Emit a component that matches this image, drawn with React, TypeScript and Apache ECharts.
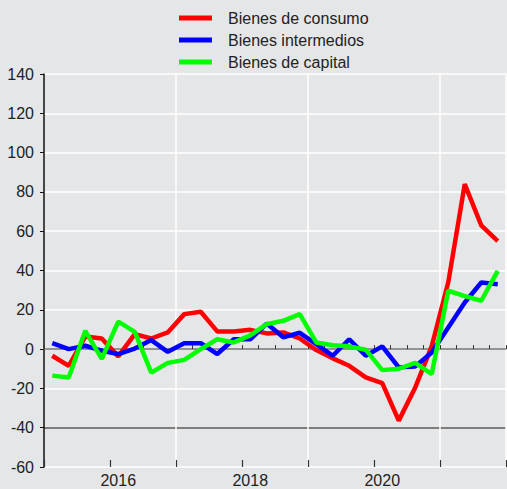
import React, { useEffect, useRef } from "react";
import * as echarts from "echarts";

const categories: string[] = [];
for (const y of [2015, 2016, 2017, 2018, 2019, 2020, 2021]) {
  for (const q of [1, 2, 3, 4]) categories.push(`${y}T${q}`);
}

const seriesNames = ["Bienes de consumo", "Bienes intermedios", "Bienes de capital"];

const consumo = [
  -3.4, -8.5, 6.4, 5.4, -3.7, 7.6, 5.4, 8.5, 17.8, 19, 9, 9,
  9.8, 8, 8.5, 5.4, -0.5, -4.7, -8.5, -14.4, -17.3, -36.4, -19.5, 1.5,
  34, 84, 63, 55,
];
const intermedios = [
  3, 0, 1.7, -0.8, -2.5, 0.3, 4.6, -1.4, 3, 3, -2.5, 5,
  5, 13, 6, 8.3, 2.5, -3.4, 5, -3.4, 1.4, -9.3, -8.8, -1.7,
  11, 23.7, 33.9, 33,
];
const capital = [
  -13.5, -14.4, 9.3, -5, 14, 8.8, -12, -7, -5.5, 0, 5, 3.4,
  7, 12.7, 14.4, 17.8, 3.4, 2, 1.4, -0.3, -10.7, -10, -7, -12.7,
  29.7, 27, 24.6, 39.8,
];

const yTicks = [-60, -40, -20, 0, 20, 40, 60, 80, 100, 120, 140];
const labelYears = ["2016T1", "2018T1", "2020T1"];
const colors = ["#ff0000", "#0000ff", "#00ff00"];

export default function App() {
  const ref = useRef<HTMLDivElement>(null);
  useEffect(() => {
    if (!ref.current) return;
    const chart = echarts.init(ref.current, null, { renderer: "svg" });
    const font = "'Liberation Sans', Arial, Helvetica, sans-serif";
    const gridColors = yTicks.map((v) => (v === 0 || v === -40 ? "#5a5a5a" : "#ffffff"));
    chart.setOption({
      animation: false,
      backgroundColor: "#e5e6e8",
      textStyle: { fontFamily: font },
      legend: {
        orient: "vertical",
        left: 174,
        top: 5,
        icon: "rect",
        itemWidth: 33,
        itemHeight: 5,
        itemGap: 6,
        data: seriesNames,
        textStyle: {
          fontFamily: font,
          fontSize: 16,
          color: "#222",
          lineHeight: 16,
          padding: [0, 0, 0, 11],
        },
      },
      grid: { left: 44, right: 1, top: 74, bottom: 22 },
      xAxis: [
        {
          type: "category",
          data: categories,
          boundaryGap: true,
          axisLine: { show: true, lineStyle: { color: "#9a9a9a", width: 1.5 } },
          axisTick: {
            show: true,
            inside: true,
            interval: 0,
            length: 4,
            lineStyle: { color: "#333", width: 1 },
          },
          axisLabel: {
            interval: (_i: number, v: string) => labelYears.includes(v),
            formatter: (v: string) => v.slice(0, 4),
            fontSize: 16,
            color: "#222",
            margin: 5,
            fontFamily: font,
          },
          splitLine: {
            show: true,
            interval: (i: number) => i > 0 && i % 8 === 0,
            lineStyle: { color: "#ffffff", width: 1.5 },
          },
        },
        {
          type: "value",
          min: 0,
          max: 7,
          interval: 1,
          position: "bottom",
          axisLine: { show: false },
          axisTick: { show: true, inside: true, length: 7, lineStyle: { color: "#333", width: 1.2 } },
          axisLabel: { show: false },
          splitLine: { show: false },
        },
      ],
      yAxis: {
        type: "value",
        min: -60,
        max: 140,
        interval: 20,
        axisLine: { show: true, lineStyle: { color: "#111", width: 1.5 } },
        axisTick: { show: true, inside: false, length: 4, lineStyle: { color: "#111" } },
        axisLabel: { fontSize: 16, color: "#222", margin: 10, fontFamily: font },
        splitLine: { show: true, lineStyle: { color: gridColors, width: 1.5 } },
      },
      series: [consumo, intermedios, capital].map((d, k) => ({
        name: seriesNames[k],
        type: "line",
        xAxisIndex: 0,
        data: d,
        symbol: "none",
        color: colors[k],
        lineStyle: { color: colors[k], width: 4.5 },
      })),
    });
    return () => chart.dispose();
  }, []);
  return (
    <div
      ref={ref}
      style={{ position: "fixed", left: 0, top: 0, width: 507, height: 489 }}
    />
  );
}
